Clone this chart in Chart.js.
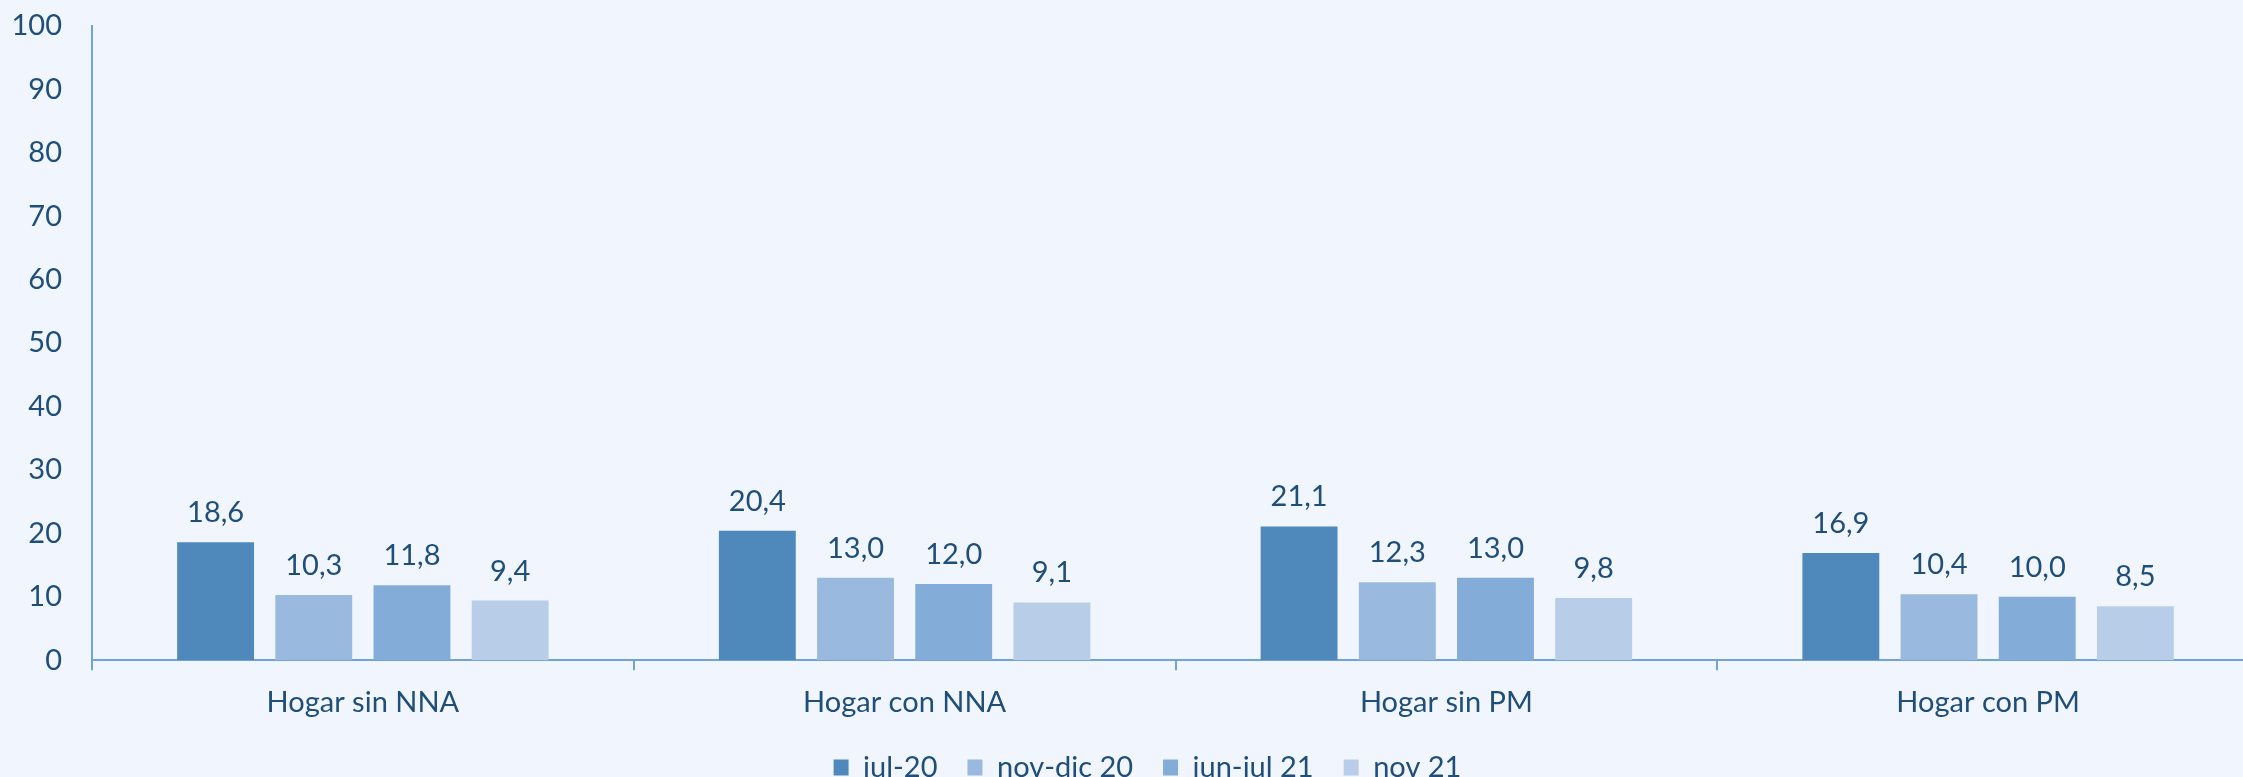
<!DOCTYPE html>
<html>
<head>
<meta charset="utf-8">
<script src="https://cdn.jsdelivr.net/npm/chart.js@4.4.0/dist/chart.umd.min.js"></script>
<style>
    html, body { margin: 0; padding: 0; background: #f1f5fd; overflow: hidden; }
    #contenedor { width: 2243px; height: 777px; overflow: hidden; }
</style>
</head>
<body>
<div id="contenedor">
    <canvas id="graficoHogares" width="2262" height="804"></canvas>
</div>
<script>
// datos
const categorias = ["Hogar sin NNA", "Hogar con NNA", "Hogar sin PM", "Hogar con PM"];
const periodos = ["jul-20", "nov-dic 20", "jun-jul 21", "nov 21"];
const valoresJul20 = [18.6, 20.4, 21.1, 16.9];
const valoresNovDic20 = [10.3, 13.0, 12.3, 10.4];
const valoresJunJul21 = [11.8, 12.0, 13.0, 10.0];
const valoresNov21 = [9.4, 9.1, 9.8, 8.5];
const ejeYMin = 0;
const ejeYMax = 100;
const ejeYPaso = 10;

const colores = ["#4f89bc", "#99b9df", "#83acd9", "#b8cde7"];
const colorTexto = "#1f4e79";
const colorEje = "#6fa3da";
const fuente = { family: "Lato", size: 29 };

const series = [valoresJul20, valoresNovDic20, valoresJunJul21, valoresNov21];

// etiquetas de valor encima de cada barra
const etiquetasBarras = {
    id: "etiquetasBarras",
    afterDatasetsDraw(chart) {
        const ctx = chart.ctx;
        ctx.save();
        ctx.font = fuente.size + "px " + fuente.family;
        ctx.fillStyle = colorTexto;
        ctx.textAlign = "center";
        ctx.textBaseline = "alphabetic";
        chart.data.datasets.forEach((dataset, i) => {
            const meta = chart.getDatasetMeta(i);
            meta.data.forEach((barra, j) => {
                const texto = dataset.data[j].toFixed(1).replace(".", ",");
                ctx.fillText(texto, barra.x, barra.y - 20);
            });
        });
        ctx.restore();
    }
};

// la leyenda del original no esta centrada en el lienzo
const moverLeyenda = {
    id: "moverLeyenda",
    afterLayout(chart) {
        const leyenda = chart.legend;
        leyenda.left += 18;
        leyenda.right += 18;
        leyenda.top -= 12;
        leyenda.bottom -= 12;
    }
};

const canvasGrafico = document.getElementById("graficoHogares");
new Chart(canvasGrafico, {
    type: "bar",
    data: {
        labels: categorias,
        datasets: series.map((valores, i) => ({
            label: periodos[i],
            data: valores,
            backgroundColor: colores[i],
            borderWidth: 0,
            categoryPercentage: 0.725,
            barPercentage: 0.783
        }))
    },
    options: {
        responsive: false,
        animation: false,
        devicePixelRatio: 1,
        layout: {
            padding: { left: 0, right: 3, top: 26, bottom: 0 }
        },
        plugins: {
            tooltip: { enabled: false },
            legend: {
                position: "bottom",
                labels: {
                    color: colorTexto,
                    font: fuente,
                    boxWidth: 15,
                    boxHeight: 16,
                    padding: 30
                }
            }
        },
        scales: {
            x: {
                grid: {
                    offset: true,
                    drawOnChartArea: false,
                    drawTicks: true,
                    tickLength: 10,
                    color: colorEje,
                    lineWidth: 2
                },
                border: { display: true, color: colorEje, width: 2 },
                ticks: {
                    color: colorTexto,
                    font: fuente,
                    padding: 15
                }
            },
            y: {
                min: ejeYMin,
                max: ejeYMax,
                afterFit(scale) {
                    scale.width = 92;
                    scale.paddingTop = 0;
                    scale.paddingBottom = 0;
                },
                grid: { display: false, drawTicks: false },
                border: { display: true, color: colorEje, width: 2 },
                ticks: {
                    stepSize: ejeYPaso,
                    color: colorTexto,
                    font: fuente,
                    padding: 30
                }
            }
        }
    },
    plugins: [etiquetasBarras, moverLeyenda]
});
</script>
</body>
</html>
